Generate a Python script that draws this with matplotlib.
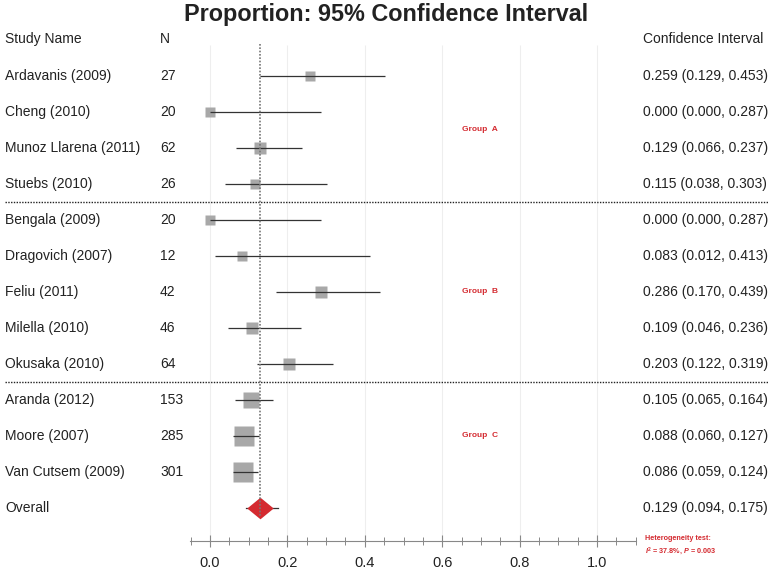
import matplotlib
matplotlib.use("Agg")
import matplotlib.pyplot as plt
import matplotlib.transforms as mtransforms
from matplotlib.ticker import MultipleLocator
import numpy as np

studies = ["Ardavanis (2009)", "Cheng (2010)", "Munoz Llarena (2011)", "Stuebs (2010)",
           "Bengala (2009)", "Dragovich (2007)", "Feliu (2011)", "Milella (2010)", "Okusaka (2010)",
           "Aranda (2012)", "Moore (2007)", "Van Cutsem (2009)"]
n_values = [27, 20, 62, 26, 20, 12, 42, 46, 64, 153, 285, 301]
estimates = [0.259, 0.000, 0.129, 0.115, 0.000, 0.083, 0.286, 0.109, 0.203, 0.105, 0.088, 0.086]
lower = [0.129, 0.000, 0.066, 0.038, 0.000, 0.012, 0.170, 0.046, 0.122, 0.065, 0.060, 0.059]
upper = [0.453, 0.287, 0.237, 0.303, 0.287, 0.413, 0.439, 0.236, 0.319, 0.164, 0.127, 0.124]
groups = ["Group  A", "Group  B", "Group  C"]
group_sizes = [4, 5, 3]
overall_label = "Overall"
overall_est, overall_lo, overall_hi = 0.129, 0.094, 0.175
major_ticks = [0.0, 0.2, 0.4, 0.6, 0.8, 1.0]
het_text = ["Heterogeneity test:", r"$\mathit{I}^{2}$ = 37.8%, $\mathit{P}$ = 0.003"]

plt.rcParams['font.family'] = ['Liberation Sans', 'DejaVu Sans']
plt.rcParams['mathtext.fontset'] = 'custom'
plt.rcParams['mathtext.it'] = 'Liberation Sans:italic:bold'
plt.rcParams['mathtext.rm'] = 'Liberation Sans:bold'

W, H = 772, 570
fig = plt.figure(figsize=(W / 100, H / 100), dpi=100)
x0_px, unit_px = 210, 387
xl, xr = -0.052, 1.1
ax_left = (x0_px + xl * unit_px) / W
ax_w = (xr - xl) * unit_px / W
row0_px, row_px = 76, 36
axis_px = 541
ax = fig.add_axes([ax_left, 1 - axis_px / H, ax_w, axis_px / H])
ax.set_xlim(xl, xr)
ax.set_ylim((axis_px - row0_px) / row_px, -row0_px / row_px)

for s in ['left', 'right', 'top']:
    ax.spines[s].set_visible(False)
ax.spines['bottom'].set_color('#888888')
ax.spines['bottom'].set_linewidth(0.8)
ax.spines['bottom'].set_bounds(-0.052, 1.1)
ax.set_yticks([])
ax.xaxis.set_minor_locator(MultipleLocator(0.05))
ax.set_xticks(major_ticks)
ax.set_xticklabels([f"{t:.1f}" for t in major_ticks])
ax.tick_params(axis='x', which='major', direction='inout', length=9, width=0.8,
               color='#888888', labelsize=10.5, pad=6, labelcolor='#222222')
ax.tick_params(axis='x', which='minor', direction='inout', length=6, width=0.7, color='#888888')

nrows = len(studies)
rows = np.arange(nrows)
overall_row = nrows

# light grid
ax.vlines(major_ticks, -0.85, (axis_px - row0_px) / row_px, color='#eeeeee', lw=0.8, zorder=0)
# reference dotted line at overall estimate
ax.vlines(overall_est, -0.88, overall_row + 0.25, color='#777777', lw=1.2,
          linestyles=(0, (1, 1)), zorder=4)

sides = [6.5 + 0.776 * np.sqrt(n) for n in n_values]
for r, e, lo, hi, sd in zip(rows, estimates, lower, upper, sides):
    ax.plot([e], [r], marker='s', ms=sd * 0.72, color='#a8a8a8', mec='none', zorder=2)
    ax.plot([lo, hi], [r, r], color='#333333', lw=0.9, zorder=3, solid_capstyle='butt')

diamond = [(-1, 0), (0, 0.82), (1, 0), (0, -0.82), (-1, 0)]
ax.plot([overall_lo, overall_hi], [overall_row, overall_row], color='#333333', lw=0.9, zorder=2)
ax.plot([overall_est], [overall_row], marker=diamond, ms=19, color='#d42a30', mec='none', zorder=3)

# separators between groups
blend = mtransforms.blended_transform_factory(fig.transFigure, ax.transData)
cum = np.cumsum(group_sizes)
for c in cum[:-1]:
    ax.plot([5 / W, 768 / W], [c - 0.5, c - 0.5], transform=blend, color='#222222',
            lw=1.0, linestyle=(0, (1, 1)), clip_on=False)

# text columns
txt_kw = dict(fontsize=10, color='#222222', va='center', transform=blend, clip_on=False)
ax.text(5 / W, -1.03, "Study Name", **txt_kw)
ax.text(160 / W, -1.03, "N", **txt_kw)
ax.text(643 / W, -1.03, "Confidence Interval", **txt_kw)
for r, name, nv, e, lo, hi in zip(rows, studies, n_values, estimates, lower, upper):
    ax.text(5 / W, r, name, **txt_kw)
    ax.text(160 / W, r, str(nv), **txt_kw)
    ax.text(643 / W, r, f"{e:.3f} ({lo:.3f}, {hi:.3f})", **txt_kw)
ax.text(5 / W, overall_row, overall_label, **txt_kw)
ax.text(643 / W, overall_row, f"{overall_est:.3f} ({overall_lo:.3f}, {overall_hi:.3f})", **txt_kw)

# group labels
starts = np.concatenate([[0], cum[:-1]])
for g, st, sz in zip(groups, starts, group_sizes):
    ax.text(480 / W, st + (sz - 1) / 2, g, transform=blend, ha='center', va='center',
            fontsize=6, fontweight='bold', color='#d42a30')

ax.text(645 / W, (538 - row0_px) / row_px, het_text[0], transform=blend, ha='left', va='center',
        fontsize=5.2, fontweight='bold', color='#d42a30', clip_on=False)
ax.text(645 / W, (551 - row0_px) / row_px, het_text[1], transform=blend, ha='left', va='center',
        fontsize=5.2, fontweight='bold', color='#d42a30', clip_on=False)

fig.text(0.5, 1 - 14 / H, "Proportion: 95% Confidence Interval", ha='center', va='center',
         fontsize=16.8, fontweight='bold', color='#222222',
         family=['Liberation Sans Narrow', 'Liberation Sans'])

fig.savefig("out.png", dpi=100)
